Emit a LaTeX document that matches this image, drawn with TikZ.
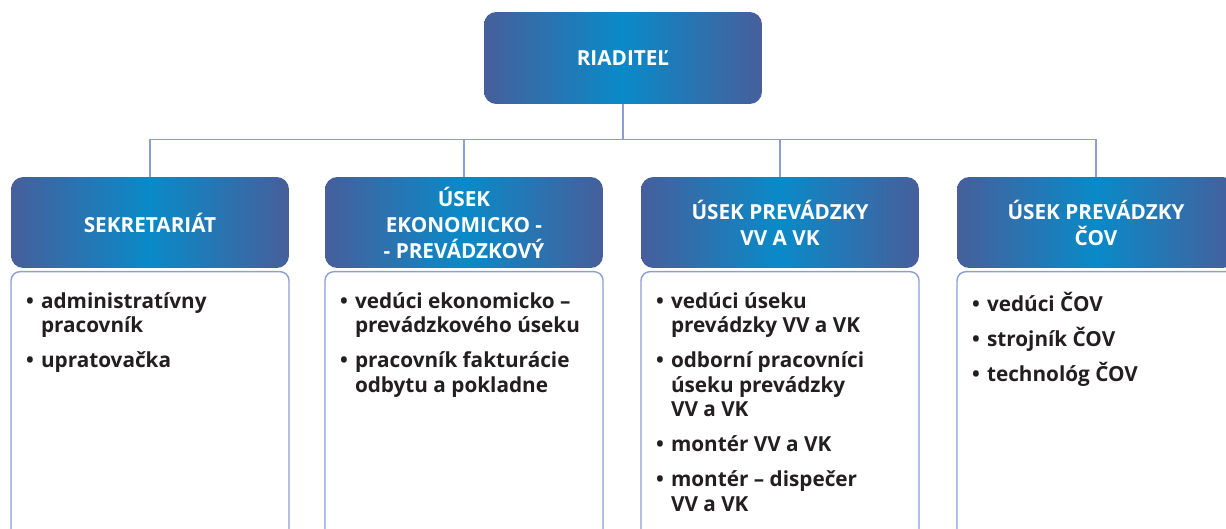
\documentclass[tikz,border=0pt]{standalone}
\usepackage{fontspec}
\setmainfont{Open Sans}
\usetikzlibrary{positioning}

\definecolor{edgeblue}{HTML}{465F9B}
\definecolor{midblue}{HTML}{0A8AC8}
\definecolor{linkblue}{HTML}{8C9FD4}
\definecolor{bodytext}{HTML}{231F20}

\newcommand{\itm}[1]{\par\hangindent=0.3cm\hangafter=1\noindent\makebox[0.3cm][l]{•}#1\par\vspace{6pt}}
\newcommand{\joblist}[1]{\parbox[t][6cm][t]{4.96cm}{\hyphenpenalty=10000\exhyphenpenalty=10000
  \leftskip=0.1cm\raggedright\fontsize{11.8}{13.9}\selectfont\bfseries #1}}

\tikzset{
  headbox/.style={rectangle, rounded corners=7pt, minimum width=5.56cm, minimum height=1.84cm,
    left color=edgeblue, right color=edgeblue, middle color=midblue, text=white,
    align=center, font=\fontsize{11.8}{14.8}\selectfont\bfseries},
  bodybox/.style={rectangle, rounded corners=5pt, draw=linkblue, line width=0.8pt, fill=white,
    minimum width=5.56cm, inner xsep=0.3cm, inner ysep=0.42cm, text=bodytext},
  link/.style={draw=linkblue, line width=0.8pt}
}

\begin{document}
\begin{tikzpicture}[x=0.02cm, y=-0.02cm]
\clip (0,0) rectangle (1226,528);
\fill[white] (0,0) rectangle (1226,528);

\node[headbox, minimum height=1.84cm] (boss) at (623,58) {RIADITEĽ};

\node[headbox, minimum height=1.82cm] (sek) at (150,222.5) {SEKRETARIÁT};
\node[headbox, minimum height=1.82cm] (eko) at (464,222.5) {ÚSEK\\EKONOMICKO -\\- PREVÁDZKOVÝ};
\node[headbox, minimum height=1.82cm] (vvk) at (780,222.5) {ÚSEK PREVÁDZKY\\VV A VK};
\node[headbox, minimum height=1.82cm] (cov) at (1096,222.5) {ÚSEK PREVÁDZKY\\ČOV};

% connectors
\draw[link] (boss.south) -- ++(0,35) -| (sek.north);
\draw[link] (boss.south) -- ++(0,35) -| (eko.north);
\draw[link] (boss.south) -- ++(0,35) -| (vvk.north);
\draw[link] (boss.south) -- ++(0,35) -| (cov.north);

% job lists
\node[bodybox, below=1.5pt of sek.south] (sekbody) {\joblist{%
  \itm{administratívny pracovník}
  \itm{upratovačka}}};
\node[bodybox, below=1.5pt of eko.south] (ekobody) {\joblist{%
  \itm{vedúci ekonomicko – prevádzkového úseku}
  \itm{pracovník fakturácie odbytu a pokladne}}};
\node[bodybox, below=1.5pt of vvk.south] (vvkbody) {\joblist{%
  \itm{vedúci úseku prevádzky \mbox{VV a VK}}
  \itm{odborní pracovníci úseku prevádzky \mbox{VV a VK}}
  \itm{montér \mbox{VV a VK}}
  \itm{montér – dispečer \mbox{VV a VK}}}};
\node[bodybox, below=1.5pt of cov.south] (covbody) {\joblist{%
  \itm{vedúci ČOV}
  \itm{strojník ČOV}
  \itm{technológ ČOV}}};

\end{tikzpicture}
\end{document}
